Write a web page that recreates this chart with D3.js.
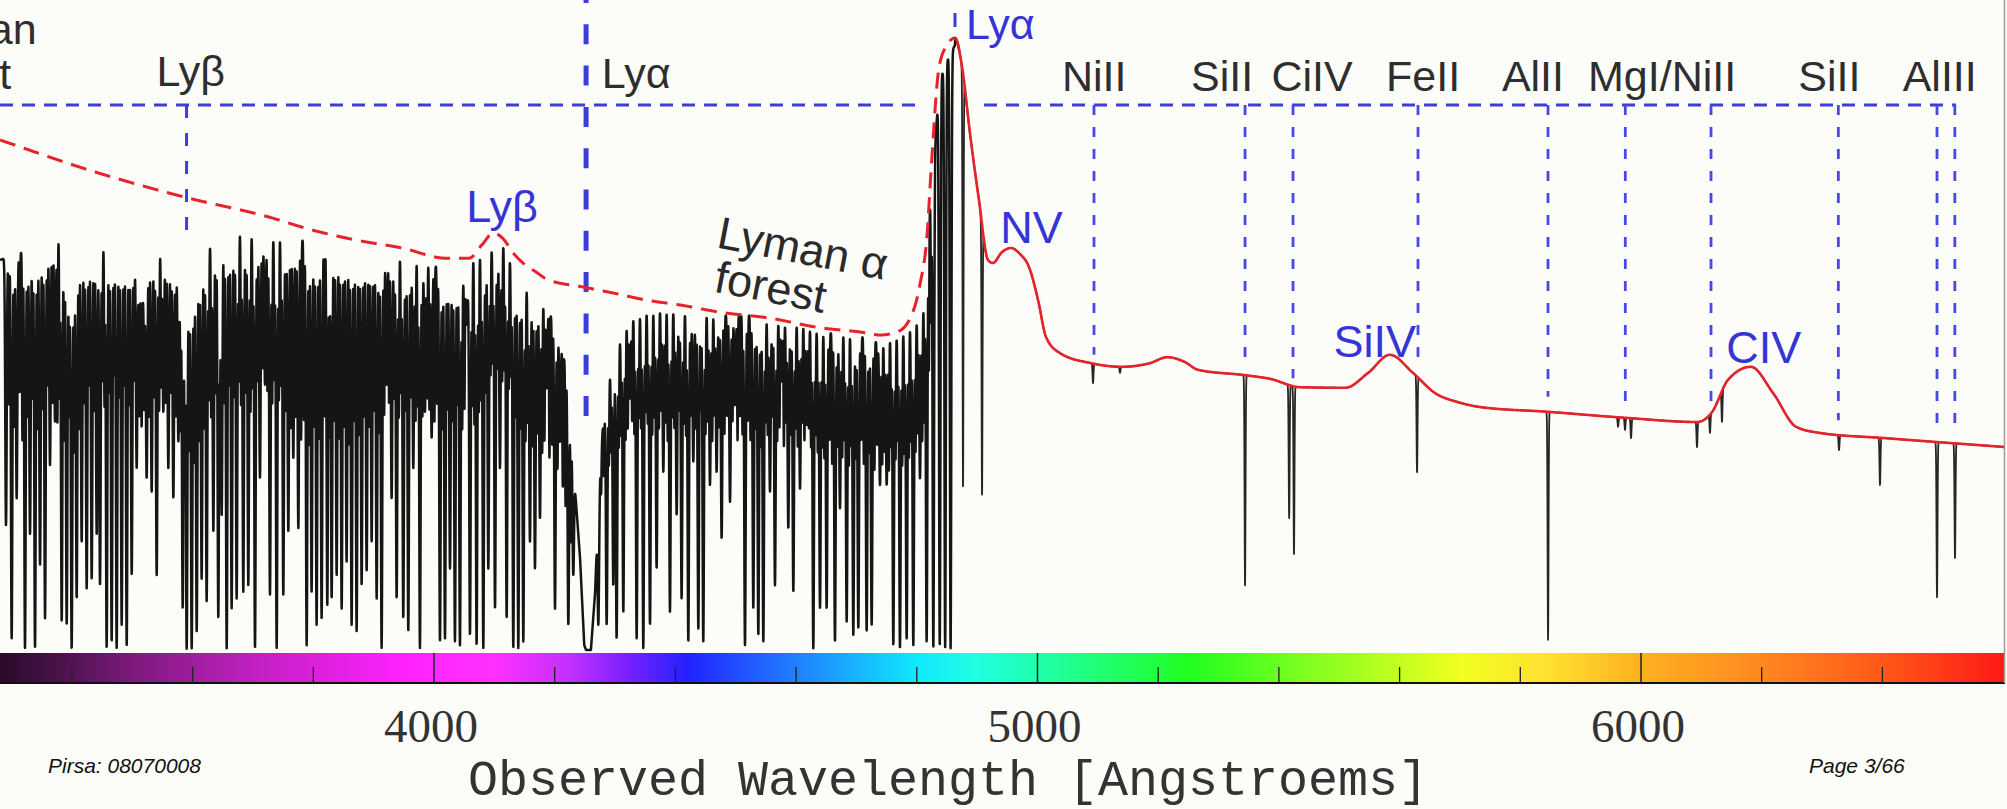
<!DOCTYPE html>
<html>
<head>
<meta charset="utf-8">
<script src="https://cdn.jsdelivr.net/npm/d3@7"></script>
<style>
  html, body { margin: 0; padding: 0; background: #fcfcf8; }
  svg { display: block; }
</style>
</head>
<body>
<svg id="chart" width="2007" height="809"></svg>
<script>
// ---------------------------------------------------------------
// Simulated z = 3 quasar spectrum with a z = 2.5 damped absorber
// ---------------------------------------------------------------

// Unabsorbed quasar continuum + emission lines [wavelength (A), flux]
const continuum = [
  [3281, 85.0], [3428, 80.0], [3586, 75.5], [3725, 72.2], [3798, 70.0],
  [3872, 68.3], [3947, 67.0], [4020, 65.3], [4058, 65.3], [4080, 67.6],
  [4098, 69.5], [4114, 68.6], [4131, 66.2], [4151, 64.2], [4169, 63.0],
  [4187, 61.8], [4247, 60.5], [4297, 59.5], [4353, 58.3], [4408, 57.5],
  [4474, 56.3], [4557, 55.3], [4640, 53.7], [4706, 53.0], [4739, 52.5],
  [4767, 53.0], [4789, 55.3], [4805, 60.8], [4817, 69.2], [4824, 80.5],
  [4837, 97.2], [4850, 100.8], [4863.3, 102.0], [4875, 97.2], [4888, 86.2],
  [4903, 75.0], [4918, 65.0], [4926, 64.5], [4941, 66.3], [4956, 67.0],
  [4971, 66.0], [4986, 63.8], [5001, 58.3], [5014, 52.2], [5037, 49.5],
  [5089, 47.8], [5140, 47.2], [5186, 47.8], [5215, 48.8], [5244, 48.0],
  [5266, 46.7], [5344, 45.8], [5385, 45.2], [5435, 43.8], [5510, 43.7],
  [5548, 46.2], [5584, 49.2], [5622, 46.2], [5659, 42.8], [5697, 41.3],
  [5733, 40.5], [5846, 39.7], [5974, 38.7], [6093, 38.0], [6118, 39.7],
  [6144, 45.0], [6182, 47.2], [6219, 42.8], [6257, 37.2], [6295, 36.2],
  [6406, 35.3], [6607, 33.8]
];

// Upper envelope of the transmitted flux through the Lyman forests
const forestEnvelope = [
  [3281, 65.0], [3302, 65.8], [3336, 67.0], [3359, 68.7], [3380, 68.7],
  [3390, 65.0], [3400, 58.3], [3410, 66.3], [3447, 67.5], [3480, 67.0],
  [3507, 66.5], [3512, 58.0], [3522, 58.0], [3527, 66.0], [3546, 66.3],
  [3574, 64.2], [3587, 58.3], [3599, 60.0],
  [3612, 65.3], [3645, 69.7], [3679, 69.7], [3733, 68.7], [3761, 69.2],
  [3790, 68.0], [3816, 68.7], [3844, 68.7], [3872, 67.5], [3899, 67.0],
  [3927, 66.3], [3955, 65.3], [3982, 64.7], [4010, 63.7], [4038, 63.7],
  [4055, 60.0], [4065, 65.3], [4088, 66.3], [4109, 67.8], [4121, 67.5],
  [4131, 62.5], [4159, 59.7], [4187, 57.0], [4209, 52.5], [4220, 45.8],
  [4230, 32.0], [4242, 15.3], [4249, 0.8], [4252, 0.0], [4260, 0.0],
  [4267, 9.7], [4272, 23.7], [4280, 37.5], [4292, 45.8], [4303, 49.7],
  [4313, 53.0], [4330, 55.3], [4353, 56.3], [4380, 56.7], [4408, 56.3],
  [4462, 55.8], [4529, 55.8], [4557, 54.7], [4611, 54.2], [4640, 53.0],
  [4694, 52.5], [4718, 52.0], [4744, 50.8], [4756, 52.0], [4772, 52.5],
  [4789, 53.7], [4800, 54.7], [4810, 55.3], [4817, 68.3], [4827, 80.0],
  [4838, 95.0], [4852, 98.7], [4863.3, 100.8]
];

// Strong Lyman forest absorbers [wavelength (A), flux at line centre]
const forestLines = [
  [3290.8, 20.8], [3300.2, 1.9], [3308.5, 25.3], [3322.3, 0.3], [3330.6, 19.2],
  [3338.9, 0.3], [3347.2, 14.2], [3355.5, 5.3], [3363.7, 30.8], [3372.0, 38.1],
  [3383.1, 4.7], [3391.4, 4.2], [3399.6, 0.0], [3407.9, 8.6], [3416.2, 18.1],
  [3424.5, 10.3], [3432.8, 11.9], [3441.1, 19.2], [3446.6, 10.8], [3457.6, 0.3],
  [3465.9, 1.4], [3474.2, 0.3], [3482.5, 4.2], [3490.8, 0.8], [3499.1, 12.5],
  [3507.3, 30.3], [3523.9, 28.6], [3532.2, 26.4], [3540.5, 12.5], [3551.5, 39.7],
  [3559.8, 30.3], [3568.1, 25.3], [3576.4, 34.7], [3583.6, 6.9], [3590.2, 0.0],
  [3598.5, 0.3], [3606.8, 3.1], [3615.0, 11.9], [3623.3, 8.1], [3634.4, 19.7],
  [3642.6, 5.3], [3648.2, 22.5], [3656.5, 0.3], [3664.7, 6.9], [3673.0, 8.6],
  [3684.0, 9.7], [3692.3, 10.8], [3703.4, 0.3], [3711.6, 28.6], [3720.0, 44.2],
  [3728.2, 9.2], [3739.3, 0.3], [3750.3, 9.2], [3758.6, 19.7], [3766.9, 31.9],
  [3775.2, 20.3], [3789.0, 0.8], [3797.2, 9.7], [3805.5, 4.2], [3813.8, 5.3],
  [3823.2, 7.5], [3830.4, 8.6], [3838.7, 12.5], [3847.0, 6.9], [3855.2, 14.7],
  [3863.5, 4.2], [3871.8, 3.1], [3880.1, 10.8], [3888.4, 13.1], [3896.7, 18.1],
  [3905.0, 8.6], [3913.2, 0.3], [3921.5, 44.2], [3929.8, 25.3], [3938.1, 8.6],
  [3949.1, 5.3], [3957.4, 3.1], [3965.7, 30.3], [3976.7, 0.3], [3985.0, 39.7],
  [3996.1, 35.3], [4009.9, 1.4], [4018.2, 1.9], [4026.5, 13.6], [4034.7, 1.4],
  [4043.0, 0.8], [4054.1, 54.2], [4059.6, 2.5], [4070.6, 0.8], [4081.7, 0.3],
  [4090.0, 13.6], [4101.1, 6.9], [4109.3, 30.3], [4120.4, 5.3], [4131.4, 0.3],
  [4139.7, 0.3], [4148.0, 1.4], [4159.0, 18.1], [4167.3, 13.6], [4175.6, 21.9],
  [4186.7, 43.6], [4200.5, 6.9], [4208.8, 34.7], [4222.6, 4.2], [4230.8, 12.5],
  [4272.3, 4.2], [4286.1, 4.2], [4297.1, 10.8], [4302.6, 1.9], [4313.7, 6.4],
  [4324.7, 41.9], [4335.8, 1.9], [4346.8, 0.3], [4357.9, 4.2], [4368.9, 13.6],
  [4380.0, 29.7], [4391.0, 6.4], [4402.1, 22.5], [4410.3, 8.6], [4421.4, 1.4],
  [4429.7, 31.4], [4438.0, 3.6], [4446.2, 1.4], [4457.3, 27.5], [4468.3, 29.7],
  [4476.6, 18.6], [4490.5, 24.7], [4498.8, 40.8], [4515.3, 0.8], [4529.1, 6.9],
  [4537.4, 2.5], [4545.7, 1.4], [4556.7, 26.4], [4565.0, 10.8], [4576.1, 44.7],
  [4587.1, 20.3], [4595.4, 9.7], [4606.5, 26.9], [4617.5, 37.5], [4628.5, 0.3],
  [4639.6, 6.9], [4650.6, 6.9], [4664.4, 1.4], [4672.7, 23.6], [4683.8, 4.7],
  [4694.8, 2.5], [4703.1, 3.6], [4716.9, 3.1], [4725.2, 4.2], [4739.0, 27.5],
  [4750.1, 27.5], [4761.1, 0.8], [4772.1, 0.3], [4783.2, 1.9], [4794.2, 0.8],
  [4805.3, 28.6], [4816.3, 1.4], [4827.4, 0.3], [4838.0, 1.0], [4847.0, 0.5],
  [4856.0, 0.3]
];

// Weaker, blended forest absorbers filling the upper part of the forest
const weakLines = [
  [3295.5, 41], [3304.4, 37], [3313.5, 43], [3318.0, 35], [3326.5, 39], [3334.8, 42],
  [3343.0, 37], [3351.4, 40], [3359.6, 44], [3367.9, 41], [3376.0, 38], [3379.6, 42],
  [3387.3, 35], [3395.5, 39], [3403.8, 33], [3412.0, 37], [3420.4, 41], [3428.6, 44],
  [3437.0, 40], [3450.5, 45], [3454.0, 41], [3461.8, 43], [3470.0, 46], [3478.4, 42],
  [3486.6, 44], [3495.0, 41], [3503.2, 45], [3511.5, 39], [3515.6, 37], [3519.8, 40],
  [3528.0, 39], [3536.4, 42], [3544.5, 40], [3548.0, 44], [3555.6, 41], [3564.0, 43],
  [3572.2, 39], [3580.0, 37], [3587.0, 30], [3594.4, 33], [3602.6, 31], [3611.0, 35],
  [3619.2, 37], [3627.0, 42], [3630.8, 39], [3638.5, 43], [3645.4, 45], [3652.4, 41],
  [3660.6, 44], [3668.9, 42], [3676.6, 45], [3680.3, 41], [3688.2, 43], [3696.0, 40],
  [3699.7, 44], [3707.5, 45], [3715.8, 47], [3724.1, 43], [3731.9, 41], [3735.6, 45],
  [3743.0, 42], [3746.6, 44], [3754.5, 40], [3762.8, 37], [3771.0, 39], [3779.8, 35],
  [3784.4, 38], [3793.1, 34], [3801.4, 37], [3809.6, 35], [3818.5, 39], [3826.8, 36],
  [3834.6, 38], [3842.9, 35], [3851.1, 37], [3859.4, 34], [3867.6, 38], [3876.0, 36],
  [3884.2, 39], [3892.6, 37], [3900.8, 40], [3909.1, 36], [3917.4, 39], [3925.6, 41],
  [3934.0, 42], [3941.8, 39], [3945.4, 43], [3953.2, 40], [3961.6, 42], [3969.4, 38],
  [3973.0, 41], [3980.8, 39], [3988.7, 42], [3992.4, 40], [4000.7, 38], [4005.3, 41],
  [4014.0, 37], [4022.4, 40], [4030.6, 38], [4038.8, 41], [4046.7, 37], [4050.4, 40],
  [4063.3, 41], [4067.0, 38], [4074.3, 40], [4078.0, 42], [4085.8, 43], [4093.7, 46],
  [4097.4, 48], [4105.2, 47], [4113.0, 45], [4116.7, 47], [4124.0, 44], [4127.7, 46],
  [4135.5, 39], [4143.8, 37], [4151.7, 35], [4155.4, 38], [4163.2, 34], [4171.4, 36],
  [4179.3, 33], [4183.0, 35], [4191.3, 32], [4195.9, 34], [4204.6, 30], [4213.4, 27],
  [4218.0, 24], [4226.7, 18], [4276.9, 26], [4281.5, 29], [4289.8, 31], [4293.4, 33],
  [4306.3, 34], [4310.0, 36], [4317.4, 35], [4321.0, 37], [4328.4, 38], [4332.1, 36],
  [4339.5, 39], [4343.1, 37], [4350.5, 40], [4354.2, 38], [4361.6, 36], [4365.2, 39],
  [4372.6, 37], [4376.3, 40], [4383.7, 38], [4387.3, 35], [4394.7, 39], [4398.4, 37],
  [4406.2, 40], [4414.0, 38], [4417.7, 36], [4425.6, 39], [4433.8, 37], [4442.1, 40],
  [4449.9, 36], [4453.6, 38], [4461.0, 35], [4464.6, 39], [4472.4, 37], [4481.2, 36],
  [4485.8, 39], [4494.6, 38], [4503.0, 35], [4507.0, 39], [4511.2, 36], [4519.9, 38],
  [4524.5, 35], [4533.2, 37], [4541.5, 34], [4549.4, 38], [4553.0, 36], [4560.8, 39],
  [4568.7, 35], [4572.4, 37], [4579.8, 34], [4583.4, 38], [4591.2, 36], [4599.1, 37],
  [4602.8, 34], [4610.2, 38], [4613.8, 35], [4621.2, 37], [4624.8, 34], [4632.2, 36],
  [4635.9, 33], [4643.3, 34], [4646.9, 32], [4655.2, 35], [4659.8, 31], [4668.5, 34],
  [4676.4, 32], [4680.1, 35], [4687.5, 31], [4691.1, 34], [4699.0, 32], [4707.7, 35],
  [4712.3, 31], [4721.0, 33], [4729.8, 30], [4734.4, 34], [4742.7, 31], [4746.4, 33],
  [4753.8, 30], [4757.4, 34], [4764.8, 32], [4768.4, 35], [4775.8, 31], [4779.5, 33],
  [4786.9, 32], [4790.5, 35], [4797.9, 33], [4801.6, 36], [4809.0, 35], [4812.6, 38],
  [4820.0, 47], [4823.7, 55]
];

// Narrow metal / intervening lines redward of Lyman alpha [wavelength, flux at centre]
const metalLines = [
  [4876.6, 26.7], [4908.1, 25.5], [5092.0, 44.5], [5136.7, 46.2], [5343.9, 10.5],
  [5417.0, 22.0], [5425.0, 16.0], [5628.9, 29.5], [5846.0, 1.7], [5962.0, 37.2],
  [5973.5, 36.7], [5983.5, 35.3], [6092.8, 33.8], [6114.3, 36.2], [6134.2, 38.0],
  [6328.1, 33.3], [6396.0, 27.5], [6490.5, 8.8], [6520.3, 15.3]
];

// Absorber (z = 2.5) Lyman markers: wavelength, flux where the marker stops
const dlaLymanLambda  = [3590, 4252];
const dlaLymanEnd     = [67.5, 39.0];

// Absorber metal-line markers
const dlaMetalLambda = [5093.6, 5343.9, 5423.4, 5630.5, 5845.9, 5974.0, 6116.0, 6327.0, 6490.5, 6520.0];
const dlaMetalEnd    = [49.2, 47.5, 45.3, 47.8, 42.2, 39.5, 40.5, 38.3, 37.0, 37.0];

// Absorber labels along the top
const dlaLabels       = ["Ly\u03b2", "Ly\u03b1", "NiII", "SiII", "CiIV", "FeII", "AlII", "MgI/NiII", "SiII", "AlIII"];
const dlaLabelLambda  = [3597, 4335, 5094, 5306, 5455, 5639, 5821, 6035, 6312, 6495];

// Quasar (z = 3) emission lines: label, observed wavelength, label baseline flux
const emissionLabels      = ["Ly\u03b1", "Ly\u03b2", "NV", "SiIV", "CIV"];
const emissionLabelLambda = [4863.3, 4103, 4960, 5600, 6196];
const emissionLabelFlux   = [101.8, 71.3, 67.8, 48.8, 47.8];

// Wavelength axis
const majorTicks = [4000, 5000, 6000];
const minorTicks = [3400, 3600, 3800, 4200, 4400, 4600, 4800, 5200, 5400, 5600, 5800, 6200, 6400];

// Colour strip under the spectrum
const stripLambda = [3281, 3380, 3500, 3700, 3950, 4100, 4230, 4320, 4420, 4600, 4800, 4900, 5050, 5250, 5450, 5700, 5850, 6000, 6200, 6400, 6607];
const stripColor  = ["#2a0a2a", "#4a124a", "#7c1a7c", "#c020c0", "#ff22ff", "#ff30ff", "#c030ff", "#7a20ff", "#2222ff", "#2080ff",
                     "#10e8ff", "#20ffe0", "#20ff90", "#20ff20", "#80ff20", "#f0ff20", "#ffe030", "#ffb020", "#ff8820", "#ff5818", "#ff1818"];

// ---------------------------------------------------------------
const W = 2007, H = 809;
const x = d3.scaleLinear().domain([4000, 6000]).range([434, 1641]);
const y = d3.scaleLinear().domain([0, 100]).range([650, 50]);
const LYA_EMIT = 4863.3;

const BLUE = "#3d3ddf", RED = "#e6232b", INK = "#2e2e2e";

// Monotone cubic (Steffen) interpolation through knots
function monotone(pts) {
  const n = pts.length, xs = pts.map(d => d[0]), ys = pts.map(d => d[1]);
  const h = [], s = [], m = new Array(n);
  for (let i = 0; i < n - 1; i++) { h[i] = xs[i + 1] - xs[i]; s[i] = (ys[i + 1] - ys[i]) / h[i]; }
  m[0] = s[0]; m[n - 1] = s[n - 2];
  for (let i = 1; i < n - 1; i++) {
    const p = (s[i - 1] * h[i] + s[i] * h[i - 1]) / (h[i - 1] + h[i]);
    m[i] = (Math.sign(s[i - 1]) + Math.sign(s[i])) * Math.min(Math.abs(s[i - 1]), Math.abs(s[i]), 0.5 * Math.abs(p));
  }
  return function (v) {
    if (v <= xs[0]) return ys[0];
    if (v >= xs[n - 1]) return ys[n - 1];
    const i = Math.min(n - 2, d3.bisectRight(xs, v) - 1);
    const t = (v - xs[i]) / h[i], t2 = t * t, t3 = t2 * t;
    return (2 * t3 - 3 * t2 + 1) * ys[i] + (t3 - 2 * t2 + t) * h[i] * m[i]
         + (-2 * t3 + 3 * t2) * ys[i + 1] + (t3 - t2) * h[i] * m[i + 1];
  };
}

const contFn = monotone(continuum);
const envFn = d3.scaleLinear().domain(forestEnvelope.map(d => d[0])).range(forestEnvelope.map(d => d[1])).clamp(true);
const baseFn = l => (l < LYA_EMIT ? envFn(l) : contFn(l));

// Sample the spectrum and imprint the absorbers
const step = 0.25, l0 = 3281, l1 = 6607;
const nS = Math.round((l1 - l0) / step) + 1;
const lam = new Float64Array(nS), flux = new Float64Array(nS);
for (let i = 0; i < nS; i++) { lam[i] = l0 + i * step; flux[i] = baseFn(lam[i]); }

function imprint(lines, sigma) {
  lines.forEach(([lc, fmin]) => {
    const b = baseFn(lc);
    const depth = b > 0 ? Math.max(0, Math.min(0.997, 1 - fmin / b)) : 0;
    const i0 = Math.max(0, Math.floor((lc - 5 * sigma - l0) / step));
    const i1 = Math.min(nS - 1, Math.ceil((lc + 5 * sigma - l0) / step));
    for (let i = i0; i <= i1; i++) {
      const d = (lam[i] - lc) / sigma;
      flux[i] *= 1 - depth * Math.exp(-d * d);
    }
  });
}
imprint(forestLines, 1.7);
imprint(weakLines, 0.9);
imprint(metalLines, 1.1);

const spectrum = Array.from(lam, (l, i) => [l, flux[i]]);
const SPLIT = 4870;
const forestPart = spectrum.filter(d => d[0] <= SPLIT);
const redPart = spectrum.filter(d => d[0] >= SPLIT - 0.25);

// ---------------------------------------------------------------
const svg = d3.select("#chart");
svg.append("rect").attr("width", W).attr("height", H).attr("fill", "#fcfcf8");

const defs = svg.append("defs");
const grad = defs.append("linearGradient").attr("id", "strip")
  .attr("gradientUnits", "userSpaceOnUse").attr("x1", 0).attr("x2", W).attr("y1", 0).attr("y2", 0);
stripLambda.forEach((l, i) => {
  grad.append("stop").attr("offset", Math.max(0, Math.min(1, x(l) / W))).attr("stop-color", stripColor[i]);
});
defs.append("clipPath").attr("id", "plotClip").append("rect")
  .attr("x", 0).attr("y", 0).attr("width", 2004).attr("height", 653);

// Colour strip and wavelength axis
const stripTop = 653, axisY = 683;
svg.append("rect").attr("x", 0).attr("y", stripTop).attr("width", 2005).attr("height", axisY - stripTop)
  .attr("fill", "url(#strip)");

const axis = svg.append("g").attr("class", "axis");
axis.append("line").attr("x1", 0).attr("x2", 2005).attr("y1", axisY).attr("y2", axisY)
  .attr("stroke", "#111").attr("stroke-width", 2);
axis.selectAll("line.major").data(majorTicks).join("line").attr("class", "major")
  .attr("x1", d => x(d)).attr("x2", d => x(d)).attr("y1", stripTop).attr("y2", axisY)
  .attr("stroke", "#222").attr("stroke-width", 1.5);
axis.selectAll("line.minor").data(minorTicks).join("line").attr("class", "minor")
  .attr("x1", d => x(d)).attr("x2", d => x(d)).attr("y1", 667).attr("y2", axisY)
  .attr("stroke", "#222").attr("stroke-width", 1.3);
axis.selectAll("text").data(majorTicks).join("text")
  .attr("x", d => x(d) - 3).attr("y", 742)
  .attr("text-anchor", "middle")
  .attr("font-family", "'Liberation Serif', 'DejaVu Serif', serif")
  .attr("font-size", 47).attr("fill", "#333")
  .text(d => d);

svg.append("text").attr("x", 948).attr("y", 795).attr("text-anchor", "middle")
  .attr("font-family", "'Liberation Mono', 'DejaVu Sans Mono', monospace")
  .attr("font-size", 50).attr("fill", "#333")
  .text("Observed Wavelength [Angstroems]");

// right frame edge
svg.append("line").attr("x1", 2004.5).attr("x2", 2004.5).attr("y1", 0).attr("y2", axisY)
  .attr("stroke", "#9a9a9a").attr("stroke-width", 1.5);

// ---------------------------------------------------------------
// Absorber markers (blue dashed)
const markers = svg.append("g").attr("clip-path", "url(#plotClip)");
const hY = 105;
[[0, 921], [984, 1956]].forEach(([a, b]) => {
  markers.append("line").attr("x1", a).attr("x2", b).attr("y1", hY).attr("y2", hY)
    .attr("stroke", BLUE).attr("stroke-width", 3).attr("stroke-dasharray", "13 9");
});
// Lyman beta of the absorber
markers.append("line")
  .attr("x1", x(dlaLymanLambda[0])).attr("x2", x(dlaLymanLambda[0]))
  .attr("y1", hY).attr("y2", y(dlaLymanEnd[0]))
  .attr("stroke", BLUE).attr("stroke-width", 3).attr("stroke-dasharray", "13 15");
// Lyman alpha of the absorber (bold, full height)
markers.append("line")
  .attr("x1", x(dlaLymanLambda[1])).attr("x2", x(dlaLymanLambda[1]))
  .attr("y1", y(dlaLymanEnd[1])).attr("y2", 0)
  .attr("stroke", BLUE).attr("stroke-width", 5).attr("stroke-dasharray", "20 21.3");
// metal lines
markers.selectAll("line.metal").data(dlaMetalLambda).join("line").attr("class", "metal")
  .attr("x1", d => x(d)).attr("x2", d => x(d))
  .attr("y1", hY).attr("y2", (d, i) => y(dlaMetalEnd[i]))
  .attr("stroke", "#4848e8").attr("stroke-width", 2.8).attr("stroke-dasharray", "10 12");
// quasar Lyman alpha marker above the peak
markers.append("line").attr("x1", x(LYA_EMIT)).attr("x2", x(LYA_EMIT)).attr("y1", 13).attr("y2", 27)
  .attr("stroke", BLUE).attr("stroke-width", 3);

// ---------------------------------------------------------------
// Spectrum: heavier pen through the forest, finer redward of Lyman alpha
const plot = svg.append("g").attr("clip-path", "url(#plotClip)");
const line = d3.line().x(d => x(d[0])).y(d => y(d[1]));
plot.append("path").datum(forestPart).attr("d", line)
  .attr("fill", "none").attr("stroke", "#151515").attr("stroke-width", 2.5)
  .attr("stroke-linejoin", "round");
plot.append("path").datum(redPart).attr("d", line)
  .attr("fill", "none").attr("stroke", "#262626").attr("stroke-width", 1.8)
  .attr("stroke-linejoin", "round");

// Continuum: dashed blueward of Lyman alpha, solid redward
const contBlue = d3.range(l0, LYA_EMIT + 0.01, 1).map(l => [l, contFn(l)]);
const contRed = d3.range(LYA_EMIT, l1, 1).map(l => [l, contFn(l)]);
plot.append("path").datum(contBlue).attr("d", line)
  .attr("fill", "none").attr("stroke", RED).attr("stroke-width", 3).attr("stroke-dasharray", "16 9");
plot.append("path").datum(contRed).attr("d", line)
  .attr("fill", "none").attr("stroke", RED).attr("stroke-width", 2.6);

// ---------------------------------------------------------------
// Labels
const sans = "'Liberation Sans', Arial, Helvetica, sans-serif";
const topLabels = svg.append("g").attr("font-family", sans).attr("fill", INK);
const labelBaseline = [86, 88, 91, 91, 91, 91, 91, 91, 91, 91];
topLabels.selectAll("text.dla").data(dlaLabels).join("text").attr("class", "dla")
  .attr("x", (d, i) => x(dlaLabelLambda[i])).attr("y", (d, i) => labelBaseline[i])
  .attr("text-anchor", "middle").attr("font-size", 43).text(d => d);

// Lyman limit (partly beyond the left edge)
topLabels.append("text").attr("x", x(3236)).attr("y", 44).attr("text-anchor", "middle")
  .attr("font-size", 43).text("Lyman");
topLabels.append("text").attr("x", x(3236)).attr("y", 89).attr("text-anchor", "middle")
  .attr("font-size", 43).text("limit");

// Lyman alpha forest caption
const cap = svg.append("g").attr("transform", "translate(792,262) rotate(11)")
  .attr("font-family", sans).attr("font-size", 45).attr("fill", "#2a2a2a").attr("text-anchor", "middle");
cap.append("text").attr("x", 8).attr("y", 0).text("Lyman \u03b1");
cap.append("text").attr("x", -16).attr("y", 44).text("forest");

// Emission lines (blue), offset from the line wavelength in pixels
const emDx = [11, -30, -13, -66, -33];
svg.append("g").attr("font-family", sans).attr("fill", "#3535d6")
  .selectAll("text").data(emissionLabels).join("text")
  .attr("x", (d, i) => x(emissionLabelLambda[i]) + emDx[i])
  .attr("y", (d, i) => y(emissionLabelFlux[i]))
  .attr("font-size", (d, i) => (i === 0 ? 43 : 45)).text(d => d);

// Footer
const foot = "'Liberation Sans Narrow', 'Liberation Sans', Arial, sans-serif";
svg.append("text").attr("x", 48).attr("y", 773).attr("font-family", foot).attr("font-style", "italic")
  .attr("font-size", 21).attr("fill", "#111").text("Pirsa: 08070008");
svg.append("text").attr("x", 1809).attr("y", 773).attr("font-family", foot).attr("font-style", "italic")
  .attr("font-size", 21).attr("fill", "#111").text("Page 3/66");
</script>
</body>
</html>
